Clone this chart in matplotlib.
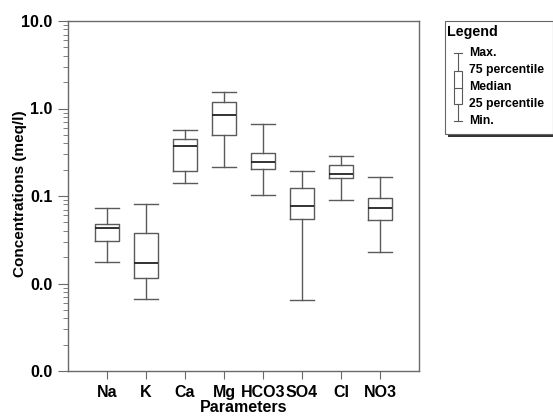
import matplotlib
matplotlib.use("Agg")
import matplotlib.pyplot as plt
from matplotlib.ticker import FixedLocator, FuncFormatter, LogLocator, NullFormatter
from matplotlib.patches import Rectangle

plt.rcParams['font.family'] = ['Liberation Sans', 'DejaVu Sans']
plt.rcParams['font.weight'] = 'bold'

categories = ["Na", "K", "Ca", "Mg", "HCO3", "SO4", "Cl", "NO3"]
minimum = [0.0175, 0.0067, 0.140, 0.216, 0.1035, 0.0065, 0.091, 0.0231]
q1 = [0.0308, 0.0117, 0.194, 0.502, 0.202, 0.0551, 0.159, 0.0532]
median = [0.0427, 0.0170, 0.373, 0.843, 0.245, 0.0762, 0.178, 0.0730]
q3 = [0.0475, 0.0378, 0.448, 1.18, 0.308, 0.123, 0.228, 0.0942]
maximum = [0.0736, 0.081, 0.564, 1.545, 0.659, 0.194, 0.286, 0.166]
ytick_values = [0.001, 0.01, 0.1, 1.0, 10.0]

legend_items = ["Max.", "75 percentile", "Median", "25 percentile", "Min."]

box_color = "#5a5a5a"
spine_color = "#6a6a6a"

fig = plt.figure(figsize=(5.53, 4.16), dpi=100)
ax = fig.add_axes([68/553, 1-371/416, (419-68)/553, (371-21)/416])

stats = []
for i, c in enumerate(categories):
    stats.append(dict(label=c, whislo=minimum[i], q1=q1[i], med=median[i],
                      q3=q3[i], whishi=maximum[i], fliers=[]))

ax.bxp(stats, positions=range(1, len(categories)+1), widths=0.6, showfliers=False,
       boxprops=dict(color=box_color, linewidth=1.0),
       whiskerprops=dict(color=box_color, linewidth=1.0),
       capprops=dict(color=box_color, linewidth=1.0),
       medianprops=dict(color="#222222", linewidth=1.3),
       capwidths=0.6)

ax.set_yscale('log')
ax.set_ylim(0.001, 10)
ax.set_xlim(0, 9)
ax.yaxis.set_major_locator(FixedLocator(ytick_values))
ax.yaxis.set_major_formatter(FuncFormatter(lambda v, p: f"{v:.1f}"))
ax.yaxis.set_minor_locator(LogLocator(base=10, subs=range(2, 10), numticks=20))
ax.yaxis.set_minor_formatter(NullFormatter())
ax.set_xticks(range(1, len(categories)+1))
ax.set_xticklabels(categories)

ax.tick_params(axis='y', which='major', length=7, width=0.8, color=spine_color, pad=4, labelsize=11.5)
ax.tick_params(axis='y', which='minor', length=3.5, width=0.6, color=spine_color)
ax.tick_params(axis='x', which='major', length=6, width=0.8, color=spine_color, pad=4, labelsize=11.5)
for s in ax.spines.values():
    s.set_color(spine_color)
    s.set_linewidth(1.0)

ax.set_ylabel("Concentrations (meq/l)", fontsize=11, fontweight='bold')
ax.yaxis.set_label_coords((27-68)/351, (371-194)/350)
ax.set_xlabel("Parameters", fontsize=11.5, fontweight='bold', labelpad=0)

# Legend panel
lx0, ly0, lx1, ly1 = 445, 21, 553, 134
fig.patches.append(Rectangle(((lx0+3)/553, 1-(ly1+3)/416), (lx1-lx0)/553, (ly1-ly0)/416,
                             transform=fig.transFigure, facecolor="#333333", edgecolor="none", zorder=1))
fig.patches.append(Rectangle((lx0/553, 1-ly1/416), (lx1-lx0)/553, (ly1-ly0)/416,
                             transform=fig.transFigure, facecolor="white", edgecolor="#666666",
                             linewidth=0.8, zorder=2))
fig.text((lx0+2)/553, 1-32/416, "Legend", fontsize=10.3, fontweight='bold', va='center', ha='left', zorder=3)

gx = 458
def fy(y):
    return 1 - y/416
def fx(x):
    return x/553
ly = [53, 70.5, 87.5, 104, 121]
kw = dict(transform=fig.transFigure, color=box_color, linewidth=0.8, zorder=3)
fig.add_artist(plt.Line2D([fx(gx-4), fx(gx+4)], [fy(ly[0])]*2, **kw))
fig.add_artist(plt.Line2D([fx(gx-4), fx(gx+4)], [fy(ly[4])]*2, **kw))
fig.add_artist(plt.Line2D([fx(gx)]*2, [fy(ly[0]), fy(ly[1])], **kw))
fig.add_artist(plt.Line2D([fx(gx)]*2, [fy(ly[3]), fy(ly[4])], **kw))
fig.add_artist(plt.Line2D([fx(gx-4), fx(gx+4)], [fy(ly[2])]*2, **kw))
fig.patches.append(Rectangle((fx(gx-4), fy(ly[3])), 8/553, (ly[3]-ly[1])/416,
                             transform=fig.transFigure, facecolor='none', edgecolor=box_color,
                             linewidth=0.8, zorder=3))
for t, y in zip(legend_items, ly):
    fig.text(fx(469), fy(y), t, fontsize=8.8, fontweight='bold', va='center', ha='left', zorder=3)

fig.savefig("out.png", dpi=100)
